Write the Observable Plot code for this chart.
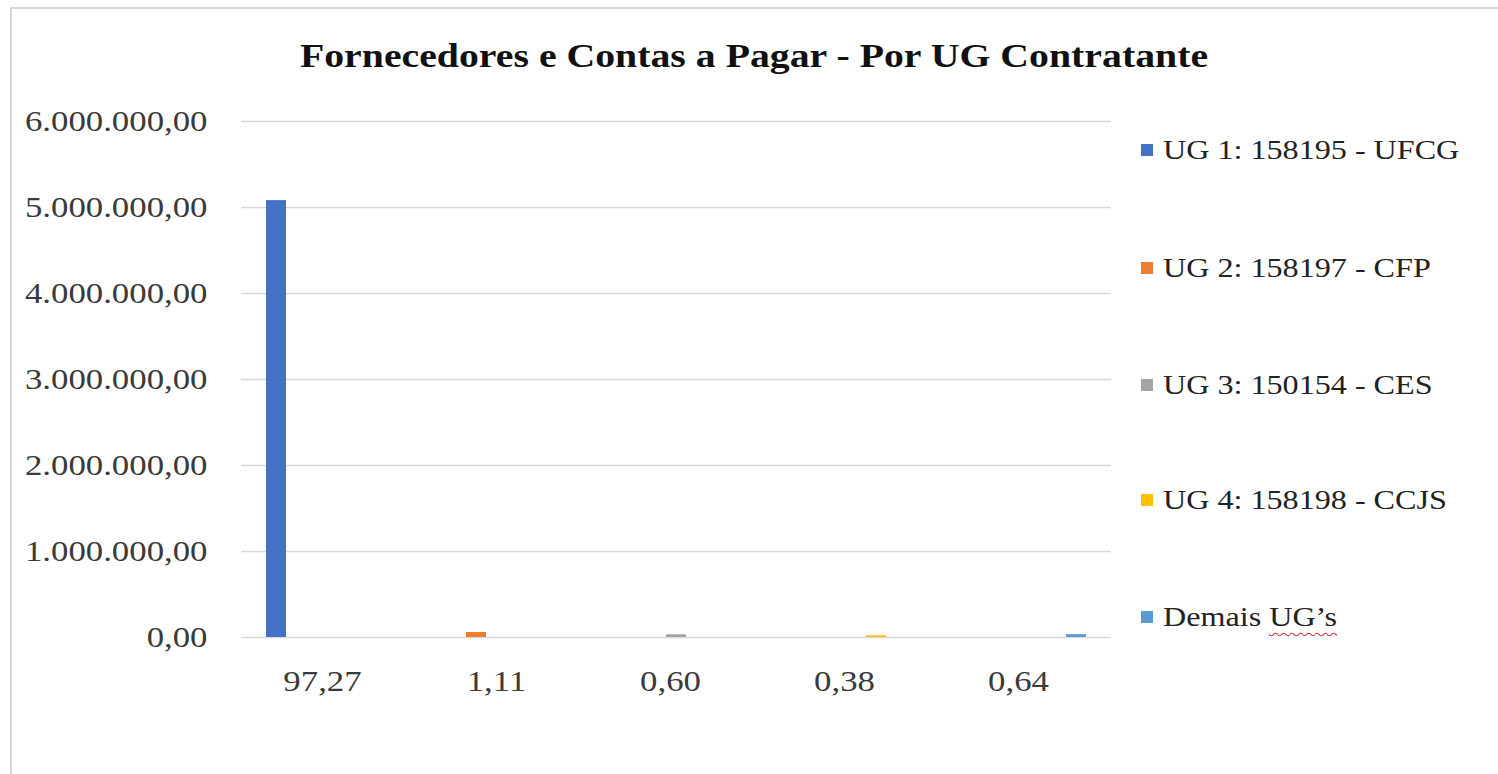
<!DOCTYPE html>
<html>
<head>
<meta charset="utf-8">
<script src="https://cdn.jsdelivr.net/npm/d3@7"></script>
<script src="https://cdn.jsdelivr.net/npm/@observablehq/plot@0.6"></script>
<style>
  html, body { margin: 0; padding: 0; background: #fff; }
  body { width: 1498px; height: 774px; position: relative; overflow: hidden; font-family: "Liberation Serif", "Times New Roman", serif; }
  #frame { position: absolute; left: 10px; top: 7px; width: 1500px; height: 780px; border-top: 2px solid #d6d6d6; border-left: 2px solid #d6d6d6; box-sizing: border-box; }
  #title { position: absolute; left: 0; top: 0; width: 1498px; height: 95px; }
  #title span { position: absolute; left: 754px; top: 39px; font-weight: bold; font-size: 34px; line-height: 34px; color: #111; white-space: nowrap; transform: translateX(-50%) scaleX(1.17); transform-origin: center; }
  #chart { position: absolute; left: 0; top: 95px; }
  #legend { position: absolute; left: 1141px; top: 0; }
  .item { position: absolute; left: 0; white-space: nowrap; display: flex; align-items: center; height: 30px; }
  .sw { width: 12px; height: 12px; margin-right: 10px; }
  .lab { font-size: 27px; color: #222; transform: scaleX(1.19); transform-origin: left center; }
  .spell { text-decoration: underline wavy #d03040; text-decoration-thickness: 1px; text-underline-offset: 6px; }
</style>
</head>
<body>
<div id="frame"></div>
<div id="title"><span>Fornecedores e Contas a Pagar - Por UG Contratante</span></div>
<div id="chart"></div>
<div id="legend"></div>
<script>
// ---- data ----
const categories = ["97,27", "1,11", "0,60", "0,38", "0,64"];          // percentual (%)
const series = ["UG 1: 158195 - UFCG", "UG 2: 158197 - CFP", "UG 3: 150154 - CES", "UG 4: 158198 - CCJS", "Demais UG’s"];
const values = [5080000, 58000, 31300, 19800, 33400];                   // R$
const colors = ["#4472C4", "#ED7D31", "#A5A5A5", "#FFC000", "#5B9BD5"];
const yTicks = [0, 1000000, 2000000, 3000000, 4000000, 5000000, 6000000];

const data = categories.map((c, i) => ({cat: c, series: series[i], value: values[i]}));

const fmt = d3.formatLocale({decimal: ",", thousands: ".", grouping: [3], currency: ["R$ ", ""]}).format(",.2f");

const chart = Plot.plot({
  width: 1498,
  height: 679,
  marginTop: 26,
  marginBottom: 137,
  marginLeft: 239,
  marginRight: 386,
  style: {fontFamily: "'Liberation Serif', 'Times New Roman', serif", fontSize: "30px", color: "#3a3a3a", background: "transparent", overflow: "visible"},
  fx: {domain: categories, padding: 0, label: null},
  x: {domain: series, paddingInner: 0.22, paddingOuter: 0.85, axis: null},
  y: {domain: [0, 6000000], label: null},
  color: {domain: series, range: colors},
  marks: [
    Plot.gridY(yTicks, {stroke: "#d9d9d9", strokeOpacity: 1, strokeWidth: 1.5}),
    Plot.barY(data, {fx: "cat", x: "series", y: "value", fill: "series"}),
    Plot.axisY(yTicks, {tickFormat: fmt, tickSize: 0, tickPadding: 34, label: null, fontSize: 30}),
    Plot.axisFx({anchor: "bottom", tickSize: 0, tickPadding: 32, label: null, fontSize: 30, dx: -6})
  ]
});
document.getElementById("chart").appendChild(chart);

// widen tick labels horizontally to match the reference's stretched look
chart.querySelectorAll('g[aria-label$="tick label"] text').forEach(el => {
  const x = el.getAttribute("x");
  const t = el.getAttribute("transform") || "";
  if (x != null) el.removeAttribute("x");
  el.setAttribute("transform", `${t} translate(${x != null ? x : 0},0) scale(1.16,1)`);
});

// legend
const legendY = [150, 268, 385, 500, 617];
const legend = d3.select("#legend");
series.forEach((s, i) => {
  const item = legend.append("div").attr("class", "item").style("top", (legendY[i] - 15) + "px");
  item.append("div").attr("class", "sw").style("background", colors[i]);
  const lab = item.append("div").attr("class", "lab");
  if (s.startsWith("Demais")) {
    lab.append("span").text("Demais ");
    lab.append("span").attr("class", "spell").text(s.slice(7));
  } else {
    lab.text(s);
  }
});
</script>
</body>
</html>
